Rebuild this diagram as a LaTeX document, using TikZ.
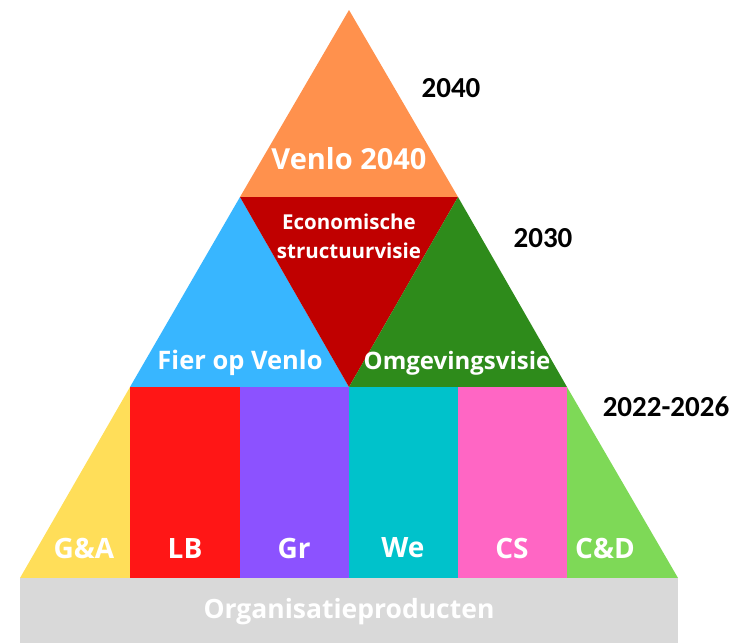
\documentclass[tikz,border=0pt]{standalone}
\usepackage{fontspec}
\setmainfont{Open Sans}
\newfontfamily\yearfont{Carlito}
\definecolor{oranje}{HTML}{FF914D}
\definecolor{donkerrood}{HTML}{C00000}
\definecolor{lichtblauw}{HTML}{38B6FF}
\definecolor{groen}{HTML}{2E8B1B}
\definecolor{geel}{HTML}{FFDE59}
\definecolor{rood}{HTML}{FF1616}
\definecolor{paars}{HTML}{8C52FF}
\definecolor{turkoois}{HTML}{00C2CB}
\definecolor{roze}{HTML}{FF66C4}
\definecolor{lichtgroen}{HTML}{7ED957}
\definecolor{grijs}{HTML}{D9D9D9}
\tikzset{
	laag/.style={text=white, font=\bfseries\fontsize{24}{30}\selectfont, align=center},
	kolom/.style={text=white, font=\bfseries\fontsize{28}{32}\selectfont},
	jaar/.style={text=black, font=\yearfont\bfseries\fontsize{29}{32}\selectfont}
}
\begin{document}
\begin{tikzpicture}[x=1pt, y=-1pt]
	\useasboundingbox (0,0) rectangle (736,643);
	% hoekpunten
	\coordinate (top) at (349,10);
	\coordinate (l1) at (240,197);
	\coordinate (r1) at (458,197);
	\coordinate (l2) at (130,387);
	\coordinate (m2) at (349,387);
	\coordinate (r2) at (567,387);
	\coordinate (l3) at (20,578);
	\coordinate (r3) at (678,578);
	% lagen
	\fill[oranje] (top) -- (l1) -- (r1) -- cycle;
	\fill[lichtblauw] (l1) -- (l2) -- (m2) -- cycle;
	\fill[donkerrood] (l1) -- (r1) -- (m2) -- cycle;
	\fill[groen] (r1) -- (m2) -- (r2) -- cycle;
	\fill[geel] (l2) -- (l3) -- (130,578) -- cycle;
	\fill[rood] (130,387) rectangle (240,578);
	\fill[paars] (240,387) rectangle (349,578);
	\fill[turkoois] (349,387) rectangle (458,578);
	\fill[roze] (458,387) rectangle (567,578);
	\fill[lichtgroen] (r2) -- (567,578) -- (r3) -- cycle;
	\fill[grijs] (l3) rectangle (678,643);
	% teksten
	\node[laag, font=\bfseries\fontsize{29}{34}\selectfont] (venlo) at (349,159) {Venlo 2040};
	\node[laag, font=\bfseries\fontsize{20.5}{29}\selectfont] (esv) at (349,236) {Economische\\structuurvisie};
	\node[laag, font=\bfseries\fontsize{25.5}{30}\selectfont] (fier) at (240,363) {Fier op Venlo};
	\node[laag] (omg) at (457,363) {Omgevingsvisie};
	\node[kolom] (ga) at (84,548) {G\&A};
	\node[kolom] (lb) at (185,548) {LB};
	\node[kolom] (gr) at (294,548) {Gr};
	\node[kolom] (we) at (403,548) {We};
	\node[kolom] (cs) at (512,548) {CS};
	\node[kolom] (cd) at (605,548) {C\&D};
	\node[kolom, font=\bfseries\fontsize{26.5}{30}\selectfont] (org) at (349,612) {Organisatieproducten};
	\node[jaar] (j2040) at (451,88) {2040};
	\node[jaar] (j2030) at (543,238) {2030};
	\node[jaar] (j2022) at (666,407) {2022-2026};
\end{tikzpicture}
\end{document}
